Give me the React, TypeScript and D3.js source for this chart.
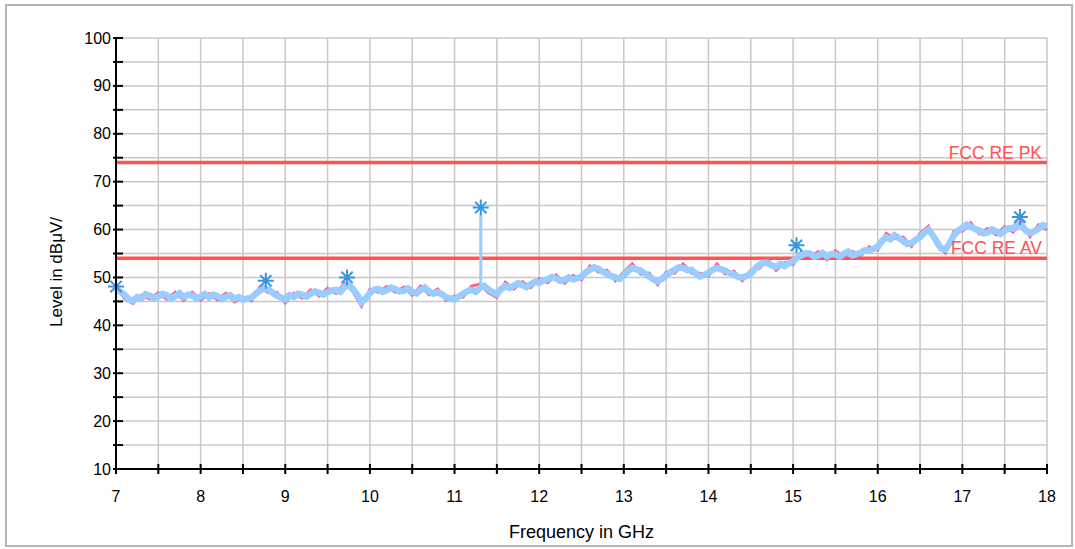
import React from "react";
import * as d3 from "d3";

// scan: 7 - 18 GHz, average trace sampled every 0.05 GHz
const avgStart = 7;
const avgStep = 0.05;
const avgLevels = [
  47.8, 47.0, 46.4, 45.4, 45.2, 45.9, 45.6, 46.5, 46.2, 45.7,
  46.0, 46.6, 46.3, 45.6, 46.1, 46.7, 45.9, 46.4, 46.2, 45.6,
  46.0, 46.5, 45.8, 46.4, 46.1, 45.5, 45.9, 46.3, 45.6, 45.9,
  45.3, 45.6, 45.8, 46.6, 47.2, 47.8, 47.5, 46.8, 46.2, 45.8,
  45.4, 46.3, 45.9, 46.6, 46.4, 46.0, 46.6, 47.1, 46.8, 46.4,
  46.9, 47.3, 47.4, 47.0, 48.0, 48.4, 47.6, 46.4, 44.8, 45.6,
  46.8, 47.4, 47.6, 47.0, 47.3, 47.9, 47.6, 47.1, 47.2, 47.7,
  47.0, 46.7, 47.4, 47.9, 47.1, 46.6, 46.9, 46.5, 45.9, 45.6,
  45.4, 46.0, 46.6, 47.1, 47.4, 47.0, 47.8, 48.2, 47.5, 46.9,
  46.5, 47.6, 48.2, 47.8, 48.3, 48.8, 48.4, 48.0, 48.6, 49.1,
  48.9, 49.4, 49.6, 50.1, 49.8, 49.3, 49.5, 50.0, 49.6, 49.8,
  50.2, 51.0, 51.6, 52.1, 51.8, 51.2, 50.8, 50.3, 50.0, 49.7,
  50.4, 51.3, 52.0, 51.7, 51.4, 50.8, 50.2, 49.6, 49.2, 49.7,
  50.4, 51.1, 51.6, 52.1, 52.0, 51.5, 51.6, 50.8, 50.2, 50.5,
  51.0, 51.6, 52.0, 51.7, 51.4, 50.9, 50.6, 50.1, 50.0, 50.3,
  50.8, 51.8, 52.6, 53.1, 53.0, 52.5, 52.2, 52.8, 52.4, 53.0,
  53.4, 54.2, 54.6, 55.1, 55.0, 54.3, 54.6, 55.1, 54.4, 54.9,
  54.8, 54.3, 55.0, 55.4, 54.6, 54.9, 55.2, 55.7, 55.6, 56.0,
  56.4, 57.6, 58.4, 58.0, 58.8, 58.2, 57.6, 57.0, 57.2, 57.9,
  58.4, 59.3, 60.0, 58.8, 57.4, 56.0, 55.8, 57.2, 58.8, 59.8,
  60.4, 61.0, 60.6, 60.1, 59.8, 59.2, 59.4, 60.0, 59.6, 59.1,
  59.8, 60.3, 60.2, 61.1, 60.8, 59.8, 59.2, 59.6, 60.2, 60.9,
  60.6,
];

// peak trace sampled every 0.1 GHz
const pkStep = 0.1;
const pkLevels = [
  48.4, 45.6, 44.6, 46.3, 45.5, 46.8, 45.5, 46.9, 45.2, 46.9,
  45.3, 46.6, 45.3, 46.7, 44.9, 45.9, 45.1, 48.0, 46.8, 46.9,
  44.7, 46.7, 45.7, 47.4, 46.1, 47.7, 46.7, 48.8, 47.0, 44.0,
  47.5, 46.9, 48.1, 46.9, 48.0, 46.3, 48.2, 46.4, 47.6, 45.2,
  46.1, 45.9, 48.2, 48.6, 46.8, 45.8, 49.0, 47.6, 49.1, 47.9,
  49.7, 48.9, 50.5, 48.8, 50.4, 49.5, 52.4, 51.1, 51.5, 49.3,
  51.1, 52.8, 50.7, 50.9, 48.5, 51.1, 50.9, 52.8, 50.9, 50.9,
  50.3, 52.8, 50.7, 51.3, 49.3, 51.5, 51.9, 53.8, 51.5, 53.1,
  52.7, 55.4, 54.3, 55.4, 53.7, 55.6, 54.3, 55.4, 54.5, 56.4,
  55.7, 59.2, 58.1, 58.4, 56.5, 59.2, 60.7, 56.7, 55.1, 59.6,
  59.7, 61.4, 59.1, 60.2, 58.9, 60.6, 59.5, 61.6, 58.5, 61.0,
  59.9,
];

// narrow spike near 11.3 GHz
const spikeFreq = 11.31;
const spikeLevels = [48.0, 63.0];

// final measurement markers
const markerFreqs = [7.0, 8.77, 9.73, 11.31, 15.04, 17.68];
const markerLevels = [48.1, 49.3, 50.0, 64.6, 56.7, 62.6];

// limit lines
const limitNames = ["FCC RE PK", "FCC RE AV"];
const limitLevels = [74, 54];

const xTicks = [7, 8, 9, 10, 11, 12, 13, 14, 15, 16, 17, 18];
const yTicks = [10, 20, 30, 40, 50, 60, 70, 80, 90, 100];

const W = 1075;
const H = 549;
const font = "'Liberation Sans', Arial, Helvetica, sans-serif";

export default function App() {
  const x = d3.scaleLinear().domain([7, 18]).range([116, 1047]);
  const y = d3.scaleLinear().domain([10, 100]).range([469, 38]);

  const xMinor = d3.range(7, 18.001, 0.5);
  const yMinor = d3.range(10, 100.001, 5);

  const avg = avgLevels.map((v, i) => [avgStart + i * avgStep, v] as [number, number]);
  const pk = pkLevels.map((v, i) => [avgStart + i * pkStep, v] as [number, number]);

  const line = d3
    .line<[number, number]>()
    .x((d) => x(d[0]))
    .y((d) => y(d[1]));

  const asterisk = (cx: number, cy: number, r: number) => {
    const p = d3.path();
    const k = r * 0.7071;
    p.moveTo(cx - r, cy);
    p.lineTo(cx + r, cy);
    p.moveTo(cx, cy - r);
    p.lineTo(cx, cy + r);
    p.moveTo(cx - k, cy - k);
    p.lineTo(cx + k, cy + k);
    p.moveTo(cx - k, cy + k);
    p.lineTo(cx + k, cy - k);
    return p.toString();
  };

  return (
    <svg
      width={W}
      height={H}
      style={{ position: "absolute", left: 0, top: 0, background: "#fff" }}
      fontFamily={font}
    >
      <rect x={6} y={5} width={1066} height={541} fill="#fff" stroke="#b4b4b4" strokeWidth={2} />

      {/* grid */}
      <g stroke="#c8c8c8" strokeWidth={1.5}>
        {xMinor.map((f) => (
          <line key={"gx" + f} x1={x(f)} x2={x(f)} y1={y(10)} y2={y(100)} />
        ))}
        {yMinor.map((v) => (
          <line key={"gy" + v} x1={x(7)} x2={x(18)} y1={y(v)} y2={y(v)} />
        ))}
      </g>

      {/* limit lines */}
      {limitLevels.map((v, i) => (
        <line key={"lim" + i} x1={x(7)} x2={x(18)} y1={y(v)} y2={y(v)} stroke="#ff5252" strokeWidth={3.5} />
      ))}

      {/* traces */}
      <path d={line(pk) ?? ""} fill="none" stroke="#ff5a8c" strokeWidth={3} />
      <path d={line(avg) ?? ""} fill="none" stroke="#99ccff" strokeWidth={6.5} strokeLinejoin="miter" />
      <line
        x1={x(spikeFreq)}
        x2={x(spikeFreq)}
        y1={y(spikeLevels[0])}
        y2={y(spikeLevels[1])}
        stroke="#99ccff"
        strokeWidth={3}
      />

      {/* limit labels */}
      {limitLevels.map((v, i) => (
        <text
          key={"ll" + i}
          x={x(18) - 5}
          y={y(v) - 4}
          textAnchor="end"
          fontSize={17.5}
          fill="#ff5252"
        >
          {limitNames[i]}
        </text>
      ))}

      {/* markers */}
      {markerFreqs.map((f, i) => (
        <path
          key={"m" + i}
          d={asterisk(x(f), y(markerLevels[i]), 8)}
          stroke="#3a96dc"
          strokeWidth={2}
          fill="none"
        />
      ))}

      {/* axes */}
      <g stroke="#000" strokeWidth={2}>
        <line x1={x(7)} x2={x(7)} y1={y(10) + 1} y2={y(100)} />
        <line x1={x(7)} x2={x(18) + 1} y1={y(10)} y2={y(10)} />
        {yMinor.map((v) => (
          <line key={"ty" + v} x1={x(7) - 3} x2={x(7) + 7} y1={y(v)} y2={y(v)} />
        ))}
        {xMinor.map((f) => (
          <line key={"tx" + f} x1={x(f)} x2={x(f)} y1={y(10) - 5} y2={y(10) + 5} />
        ))}
      </g>

      {yTicks.map((v) => (
        <text key={"yl" + v} x={x(7) - 5} y={y(v) + 5.5} textAnchor="end" fontSize={16} fill="#000">
          {v}
        </text>
      ))}
      {xTicks.map((f) => (
        <text key={"xl" + f} x={x(f)} y={502} textAnchor="middle" fontSize={16} fill="#000">
          {f}
        </text>
      ))}

      <text x={(x(7) + x(18)) / 2} y={538} textAnchor="middle" fontSize={18} fill="#000">
        Frequency in GHz
      </text>
      <text
        transform={`translate(62, 272) rotate(-90)`}
        textAnchor="middle"
        fontSize={17}
        fill="#000"
      >
        Level in dBμV/
      </text>
    </svg>
  );
}
